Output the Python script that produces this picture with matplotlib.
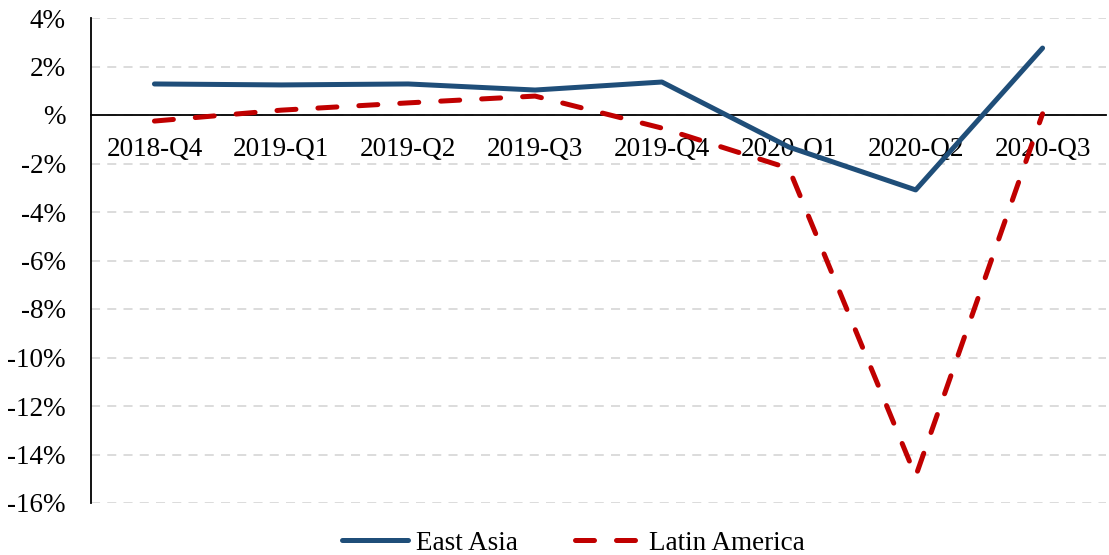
import matplotlib
matplotlib.use("Agg")
import matplotlib.pyplot as plt
from matplotlib.ticker import FuncFormatter

quarters = ["2018-Q4", "2019-Q1", "2019-Q2", "2019-Q3", "2019-Q4", "2020-Q1", "2020-Q2", "2020-Q3"]
east_asia = [1.28, 1.24, 1.28, 1.03, 1.36, -1.32, -3.09, 2.76]
latin_america = [-0.25, 0.2, 0.5, 0.78, -0.54, -2.2, -14.9, 0.05]
y_ticks = list(range(-16, 5, 2))

plt.rcParams['font.family'] = ['Liberation Serif', 'DejaVu Serif']

fig = plt.figure(figsize=(11.09, 5.55), dpi=100)
ax = fig.add_axes([91/1109, 1 - 503/555, (1106 - 91)/1109, (503 - 18)/555])

x = list(range(len(quarters)))
ax.plot(x, east_asia, color="#1F4E79", lw=3.6, solid_capstyle="round", label="East Asia", zorder=3)
ax.plot(x, latin_america, color="#C00000", lw=3.6, dashes=(3.8, 4.4), dash_capstyle="round",
        label="Latin America", zorder=3)

ax.set_xlim(-0.5, len(quarters) - 0.5)
ax.set_ylim(-16, 4)
ax.set_yticks(y_ticks)
ax.yaxis.set_major_formatter(FuncFormatter(lambda v, p: "%" if v == 0 else f"{int(v)}%"))
ax.grid(axis="y", color="#D9D9D9", linestyle=(0, (5, 4)), lw=1.3, zorder=0)
ax.set_xticks(x)
ax.set_xticklabels(quarters)
ax.spines['bottom'].set_position(('data', 0))
ax.spines['bottom'].set_color('black')
ax.spines['bottom'].set_linewidth(1.3)
ax.spines['left'].set_linewidth(1.3)
ax.spines['top'].set_visible(False)
ax.spines['right'].set_visible(False)
ax.tick_params(axis='x', length=0, pad=16, labelsize=19.5)
ax.tick_params(axis='y', length=0, pad=18, labelsize=19.5)

fig.legend(loc="lower center", ncol=2, frameon=False, fontsize=19.5, bbox_to_anchor=(0.517, -0.045),
           handlelength=2.45, columnspacing=2.1, handletextpad=0.3)

fig.savefig("out.png", dpi=100)
